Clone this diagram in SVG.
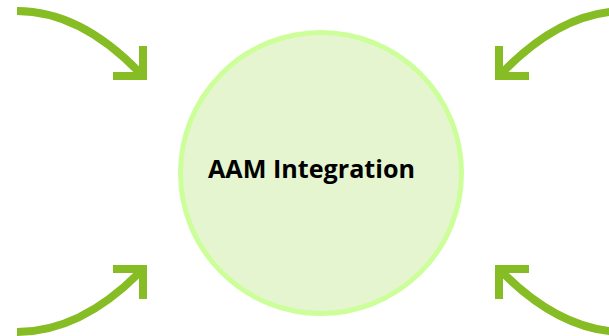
<svg xmlns="http://www.w3.org/2000/svg" width="609" height="336" viewBox="0 0 609 336">
  <style>
    .hub { fill: #E5F5D0; stroke: #CCFF99; stroke-width: 5; }
    .label { font-family: "Open Sans", "Noto Sans", "Liberation Sans", sans-serif; font-weight: 700; font-size: 25px; fill: #000000; }
    .flow { fill: none; stroke: #86BC24; stroke-width: 8; }
    .head { fill: none; stroke: #86BC24; stroke-width: 8; stroke-linejoin: miter; stroke-linecap: butt; }
  </style>
  <rect width="609" height="336" fill="#FFFFFF"/>

  <g id="hub">
    <circle class="hub" cx="321" cy="173" r="140.5"/>
    <text class="label" x="311.5" y="178" text-anchor="middle" textLength="207" lengthAdjust="spacingAndGlyphs">AAM Integration</text>
  </g>

  <g id="connectors">
    <!-- top-left, pointing down-right -->
    <path class="flow" d="M17,11 Q80,11 139,72"/>
    <path class="head" d="M113,76 L143,76 L143,46"/>
    <!-- top-right, pointing down-left -->
    <path class="flow" d="M625,11 Q562,11 503,72"/>
    <path class="head" d="M529,76 L499,76 L499,46"/>
    <!-- bottom-left, pointing up-right -->
    <path class="flow" d="M17,332 Q80,332 139,273"/>
    <path class="head" d="M113,269 L143,269 L143,299"/>
    <!-- bottom-right, pointing up-left -->
    <path class="flow" d="M625,332 Q562,332 503,273"/>
    <path class="head" d="M529,269 L499,269 L499,299"/>
  </g>
</svg>
